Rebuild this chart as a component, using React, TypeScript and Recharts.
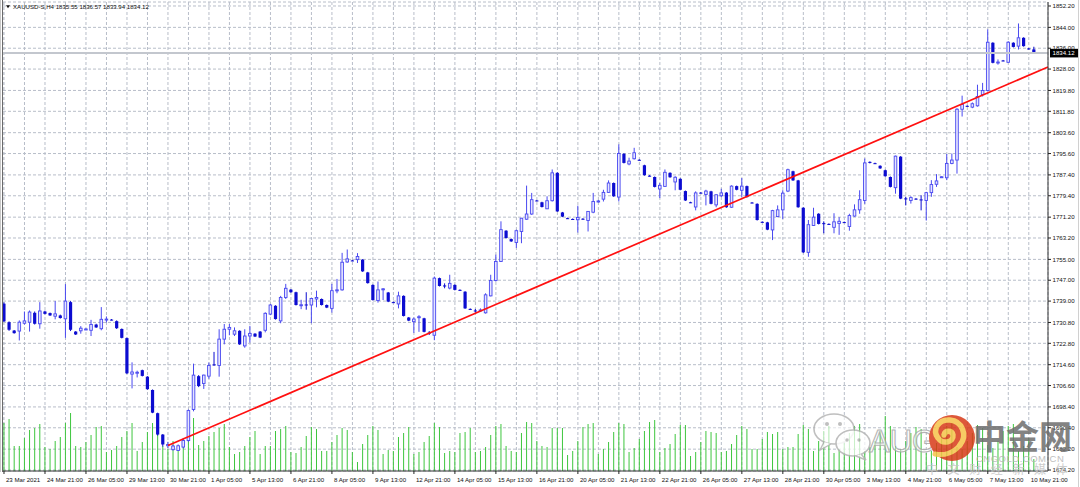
import React from 'react';
import { ComposedChart, Bar, XAxis, YAxis, CartesianGrid, ReferenceLine } from 'recharts';

// ---------- data ----------
const SYMBOL = 'XAUUSD-S,H4';
const LAST_BAR = { o: 1835.55, h: 1836.57, l: 1833.94, c: 1834.12 };
const LAST_PRICE = 1834.12;

const TIME_LABELS = [
  '23 Mar 2021', '24 Mar 21:00', '26 Mar 05:00', '29 Mar 13:00', '30 Mar 21:00', '1 Apr 05:00',
  '5 Apr 13:00', '6 Apr 21:00', '8 Apr 05:00', '9 Apr 13:00', '12 Apr 21:00', '14 Apr 05:00',
  '15 Apr 13:00', '16 Apr 21:00', '20 Apr 05:00', '21 Apr 13:00', '22 Apr 21:00', '26 Apr 05:00',
  '27 Apr 13:00', '28 Apr 21:00', '30 Apr 05:00', '3 May 13:00', '4 May 21:00', '6 May 05:00',
  '7 May 13:00', '10 May 21:00',
];

const PRICE_TICKS = [
  1852.2, 1844.0, 1836.0, 1828.0, 1819.8, 1811.8, 1803.6, 1795.6, 1787.4, 1779.4, 1771.2, 1763.2,
  1755.0, 1747.0, 1739.0, 1730.8, 1722.8, 1714.6, 1706.6, 1698.4, 1690.4, 1682.2, 1674.2,
];

const OPEN = [
  1738.0, 1730.9, 1727.7, 1727.5, 1730.5, 1730.9, 1734.5, 1730.3, 1735.0, 1734.4,
  1733.2, 1733.5, 1732.2, 1738.6, 1727.3, 1727.6, 1728.2, 1727.8, 1730.0, 1728.4,
  1732.0, 1731.9, 1731.3, 1728.3, 1724.8, 1711.0, 1711.5, 1712.5, 1710.0, 1704.9,
  1696.0, 1687.8, 1683.5, 1682.0, 1681.7, 1683.0, 1685.5, 1697.4, 1710.2, 1707.4,
  1710.2, 1714.7, 1714.3, 1724.4, 1728.2, 1726.3, 1727.6, 1721.8, 1725.6, 1726.5,
  1727.3, 1727.8, 1734.0, 1737.2, 1731.4, 1740.4, 1743.4, 1742.4, 1737.4, 1737.7,
  1737.5, 1739.8, 1739.8, 1737.5, 1736.2, 1743.0, 1743.3, 1754.0, 1754.6, 1754.9,
  1754.9, 1750.0, 1745.2, 1739.2, 1743.5, 1742.3, 1738.6, 1737.9, 1741.0, 1732.7,
  1731.1, 1732.9, 1732.4, 1726.9, 1725.9, 1747.8, 1745.0, 1744.0, 1745.2, 1743.3,
  1742.6, 1736.0, 1735.4, 1735.5, 1734.5, 1741.0, 1746.9, 1754.2, 1766.0, 1762.8,
  1761.5, 1765.7, 1770.4, 1772.4, 1777.6, 1776.9, 1774.4, 1777.5, 1788.2, 1773.0,
  1770.8, 1770.5, 1770.2, 1770.6, 1769.9, 1773.1, 1777.3, 1778.1, 1780.7, 1784.3,
  1778.9, 1795.5, 1791.6, 1793.6, 1793.2, 1791.1, 1787.1, 1786.6, 1782.0, 1783.0,
  1788.2, 1784.7, 1785.9, 1781.2, 1776.9, 1775.1, 1780.6, 1779.9, 1781.1, 1775.9,
  1779.4, 1780.6, 1775.0, 1783.1, 1781.5, 1783.1, 1776.8, 1776.3, 1769.4, 1769.2,
  1766.3, 1771.4, 1774.0, 1781.2, 1788.8, 1785.3, 1774.8, 1757.7, 1768.0, 1772.5,
  1768.9, 1768.6, 1767.3, 1768.8, 1769.3, 1767.6, 1771.6, 1774.0, 1777.6, 1792.4,
  1791.9, 1790.9, 1789.2, 1786.6, 1782.5, 1794.4, 1778.4, 1777.6, 1778.3, 1778.0,
  1777.6, 1780.6, 1783.8, 1786.6, 1786.3, 1791.8, 1793.1, 1812.6, 1813.9, 1813.4,
  1813.9, 1818.2, 1819.8, 1838.1, 1830.6, 1831.3, 1830.6, 1838.1, 1836.8, 1840.0,
  1835.9, 1835.55,
];

const HIGH = [
  1738.5, 1731.2, 1727.9, 1731.6, 1735.0, 1735.4, 1735.0, 1738.6, 1735.3, 1734.6,
  1739.0, 1733.8, 1745.5, 1739.0, 1727.5, 1729.4, 1728.6, 1731.8, 1730.3, 1736.7,
  1733.1, 1732.1, 1731.6, 1728.5, 1725.0, 1715.5, 1712.3, 1712.7, 1710.2, 1705.1,
  1696.2, 1688.0, 1685.0, 1683.9, 1684.0, 1686.5, 1697.4, 1715.0, 1710.6, 1710.8,
  1715.4, 1719.5, 1728.2, 1730.2, 1730.2, 1728.9, 1727.8, 1728.2, 1729.5, 1726.7,
  1727.5, 1734.7, 1737.9, 1737.4, 1741.0, 1745.6, 1743.6, 1742.6, 1739.5, 1742.4,
  1740.1, 1743.0, 1740.0, 1737.7, 1745.6, 1747.5, 1757.5, 1758.8, 1754.8, 1757.4,
  1755.1, 1750.2, 1745.4, 1746.5, 1744.0, 1742.5, 1738.8, 1742.6, 1741.2, 1732.9,
  1732.7, 1733.6, 1732.6, 1727.5, 1748.4, 1748.0, 1745.8, 1749.1, 1745.4, 1743.5,
  1742.8, 1736.2, 1736.0, 1736.2, 1742.0, 1749.1, 1756.8, 1769.6, 1766.2, 1763.0,
  1766.4, 1770.9, 1783.3, 1780.5, 1777.8, 1777.1, 1779.2, 1789.5, 1788.4, 1773.2,
  1771.0, 1770.7, 1775.6, 1770.8, 1773.5, 1780.5, 1777.8, 1781.7, 1785.3, 1784.5,
  1799.1, 1795.7, 1794.0, 1797.8, 1793.4, 1791.3, 1787.3, 1786.8, 1784.3, 1789.5,
  1788.4, 1786.9, 1786.1, 1781.4, 1777.1, 1781.1, 1780.8, 1781.7, 1781.3, 1779.9,
  1782.1, 1780.8, 1783.4, 1783.3, 1786.2, 1783.3, 1777.0, 1776.5, 1769.6, 1769.4,
  1774.0, 1775.7, 1781.5, 1789.8, 1789.0, 1785.5, 1775.0, 1770.1, 1774.8, 1772.7,
  1769.6, 1768.8, 1772.7, 1771.2, 1769.5, 1772.5, 1776.1, 1781.5, 1793.7, 1792.6,
  1792.1, 1791.1, 1789.4, 1786.8, 1794.8, 1794.6, 1779.0, 1779.2, 1778.5, 1779.6,
  1780.9, 1785.4, 1787.7, 1786.9, 1795.4, 1795.6, 1813.0, 1817.8, 1814.1, 1815.2,
  1822.0, 1822.7, 1843.2, 1838.3, 1831.7, 1831.5, 1838.7, 1838.3, 1845.5, 1840.2,
  1836.1, 1836.57,
];

const LOW = [
  1731.0, 1727.6, 1726.5, 1723.9, 1730.0, 1727.3, 1730.0, 1728.4, 1733.9, 1733.3,
  1732.0, 1732.3, 1724.9, 1727.5, 1726.0, 1726.5, 1727.9, 1725.6, 1728.7, 1727.8,
  1730.8, 1731.6, 1728.3, 1724.7, 1711.0, 1705.5, 1709.7, 1710.1, 1705.0, 1696.0,
  1687.4, 1683.2, 1682.6, 1681.7, 1681.5, 1682.5, 1685.0, 1696.7, 1706.0, 1705.3,
  1709.2, 1714.2, 1710.0, 1722.4, 1725.9, 1725.6, 1722.2, 1721.1, 1723.1, 1725.2,
  1724.8, 1727.0, 1733.6, 1731.9, 1730.5, 1739.8, 1742.2, 1737.3, 1735.9, 1735.7,
  1730.5, 1736.6, 1737.3, 1736.3, 1734.6, 1742.0, 1743.0, 1753.7, 1754.3, 1753.6,
  1750.2, 1745.7, 1739.2, 1738.4, 1739.4, 1738.6, 1738.3, 1736.2, 1733.1, 1731.3,
  1726.8, 1727.2, 1727.0, 1726.0, 1724.0, 1744.6, 1743.9, 1743.5, 1743.1, 1743.0,
  1736.0, 1735.7, 1734.6, 1734.8, 1734.2, 1740.8, 1746.5, 1754.0, 1763.0, 1761.7,
  1759.4, 1761.2, 1770.2, 1772.1, 1777.3, 1774.9, 1774.3, 1777.2, 1773.2, 1771.2,
  1770.5, 1770.2, 1765.3, 1770.2, 1765.7, 1772.7, 1776.8, 1777.2, 1780.5, 1779.0,
  1777.2, 1791.8, 1791.1, 1793.3, 1792.9, 1787.1, 1786.8, 1782.6, 1778.5, 1782.8,
  1786.3, 1781.5, 1781.5, 1777.4, 1776.6, 1773.8, 1780.3, 1775.7, 1776.1, 1775.0,
  1778.9, 1774.8, 1774.8, 1781.5, 1778.9, 1778.7, 1776.5, 1769.9, 1769.1, 1766.2,
  1762.4, 1771.2, 1770.5, 1780.8, 1785.1, 1774.8, 1757.4, 1756.0, 1767.8, 1768.4,
  1765.0, 1768.3, 1765.0, 1764.4, 1769.0, 1766.0, 1771.4, 1772.5, 1776.3, 1791.8,
  1791.6, 1789.7, 1786.7, 1782.6, 1780.2, 1778.1, 1775.7, 1776.4, 1777.9, 1773.8,
  1769.9, 1779.0, 1782.8, 1786.4, 1785.4, 1791.5, 1787.9, 1809.8, 1813.6, 1813.0,
  1813.6, 1817.5, 1819.4, 1830.2, 1829.7, 1831.0, 1830.4, 1836.3, 1835.5, 1836.6,
  1835.5, 1833.94,
];

const CLOSE = [
  1731.2, 1728.0, 1726.7, 1730.9, 1731.4, 1734.8, 1730.3, 1735.2, 1734.1, 1733.5,
  1734.1, 1732.5, 1739.0, 1728.0, 1726.2, 1728.6, 1728.3, 1730.0, 1728.9, 1732.0,
  1732.1, 1731.8, 1728.6, 1724.9, 1711.3, 1711.8, 1711.7, 1710.3, 1705.2, 1696.2,
  1687.8, 1684.0, 1684.0, 1683.4, 1683.5, 1685.5, 1697.0, 1710.6, 1706.4, 1710.6,
  1714.3, 1714.4, 1724.4, 1728.2, 1728.9, 1727.6, 1722.4, 1725.6, 1726.6, 1725.4,
  1725.0, 1734.3, 1737.5, 1732.1, 1740.4, 1743.9, 1742.4, 1737.5, 1737.6, 1737.5,
  1740.0, 1740.4, 1737.5, 1736.5, 1743.0, 1743.3, 1753.9, 1755.2, 1754.5, 1756.1,
  1750.4, 1745.9, 1739.4, 1743.3, 1743.7, 1738.8, 1738.5, 1741.0, 1733.3, 1731.5,
  1732.1, 1733.0, 1727.2, 1726.7, 1747.8, 1744.8, 1744.6, 1745.8, 1743.3, 1743.2,
  1736.2, 1735.9, 1735.2, 1735.6, 1741.4, 1746.9, 1754.2, 1766.4, 1763.2, 1761.9,
  1766.0, 1770.8, 1772.4, 1777.9, 1777.5, 1775.1, 1777.5, 1788.2, 1773.4, 1771.4,
  1770.7, 1770.4, 1771.1, 1770.4, 1773.4, 1777.2, 1777.4, 1780.7, 1784.3, 1779.2,
  1795.6, 1792.0, 1792.7, 1795.9, 1793.0, 1787.3, 1787.0, 1782.8, 1783.4, 1788.4,
  1786.5, 1786.5, 1781.7, 1777.6, 1776.8, 1780.5, 1780.5, 1781.2, 1776.3, 1779.8,
  1780.5, 1775.0, 1783.1, 1781.7, 1783.1, 1778.9, 1776.7, 1770.1, 1769.3, 1766.4,
  1773.7, 1774.0, 1780.4, 1789.4, 1785.3, 1775.0, 1757.7, 1768.3, 1771.2, 1768.6,
  1768.8, 1768.5, 1769.4, 1769.6, 1769.2, 1771.8, 1774.0, 1777.9, 1792.0, 1792.0,
  1791.8, 1789.9, 1786.9, 1782.8, 1794.6, 1778.3, 1778.2, 1778.7, 1778.1, 1777.9,
  1780.6, 1783.7, 1785.1, 1786.7, 1791.8, 1793.1, 1812.6, 1814.4, 1813.8, 1814.7,
  1817.5, 1819.8, 1838.3, 1830.4, 1830.7, 1831.2, 1838.3, 1836.5, 1840.0, 1836.8,
  1835.7, 1834.12,
];

// tick volume, hundreds of ticks
const VOLUME = [
  48, 52, 25, 25, 33, 41, 43, 47, 24, 22, 30, 34, 48, 58, 25, 24, 29, 36, 44, 45,
  19, 21, 25, 34, 40, 48, 20, 29, 39, 48, 53, 25, 22, 30, 20, 25, 30, 53, 26, 30,
  35, 39, 43, 47, 24, 17, 19, 25, 34, 40, 17, 25, 25, 40, 42, 45, 19, 18, 24, 35,
  44, 42, 20, 20, 29, 36, 43, 41, 19, 9, 27, 36, 45, 41, 17, 21, 20, 34, 38, 44,
  17, 19, 29, 35, 48, 44, 18, 20, 19, 38, 39, 43, 19, 20, 24, 36, 45, 47, 25, 20,
  19, 38, 49, 48, 30, 25, 24, 43, 43, 43, 16, 20, 30, 44, 47, 48, 17, 22, 29, 39,
  48, 47, 19, 23, 32, 40, 49, 51, 19, 23, 27, 37, 46, 46, 15, 19, 29, 40, 39, 38,
  19, 20, 27, 36, 45, 42, 22, 22, 32, 39, 37, 39, 22, 24, 24, 37, 46, 42, 20, 30,
  40, 45, 18, 22, 28, 38, 45, 47, 20, 24, 30, 40, 55, 45, 25, 22, 30, 38, 44, 42,
  18, 20, 28, 36, 45, 48, 24, 22, 30, 38, 46, 43, 26, 23, 30, 40, 45, 47, 20, 25,
  33, 12,
];

const TREND_START = { x: 32, y: 1683.6 };
const TREND_END = { x: 203.75, y: 1828.8 };

// ---------- layout / style ----------
const W = 1080;
const H = 487;
const X_DOMAIN: [number, number] = [-0.195, 203.75];
const Y_DOMAIN: [number, number] = [1673.82, 1853.73];
const VOL_DOMAIN: [number, number] = [0, 469];
const GRID_STEP = 4;
const LABEL_STEP = 8;
const FONT = "'Liberation Sans', Arial, sans-serif";
const FS = 6.1;

const BULL_FILL = '#e6e6ff';
const BULL_LINE = '#4848f0';
const BEAR_COLOR = '#0c0cd0';
const GRID_COLOR = '#b8bec9';
const VOL_COLOR = '#3ec63e';

const rows = OPEN.map((o, i) => ({
  i,
  o,
  h: HIGH[i],
  l: LOW[i],
  c: CLOSE[i],
  v: VOLUME[i],
}));

const xTicks = Array.from({ length: TIME_LABELS.length * 2 - 1 }, (_, k) => k * GRID_STEP);

const CandleShape = (props: any) => {
  const { x, y, width, height, payload } = props;
  if (!payload) return <g />;
  const { o, h, l, c } = payload;
  const cx = x + width / 2;
  const range = h - l;
  const ppu = range > 0 ? height / range : 0;
  const yOf = (p: number) => y + (h - p) * ppu;
  const up = c >= o;
  const top = yOf(Math.max(o, c));
  const bot = yOf(Math.min(o, c));
  const bh = Math.max(bot - top, 1);
  if (up) {
    return (
      <g>
        <line x1={cx} x2={cx} y1={y} y2={y + height} stroke={BULL_LINE} strokeWidth={1} />
        <rect x={cx - 1.3} y={top} width={2.6} height={bh} fill={BULL_FILL} stroke={BULL_LINE} strokeWidth={0.9} />
      </g>
    );
  }
  return (
    <g>
      <line x1={cx} x2={cx} y1={y} y2={y + height} stroke={BEAR_COLOR} strokeWidth={1} />
      <rect x={cx - 1.6} y={top} width={3.2} height={bh} fill={BEAR_COLOR} />
    </g>
  );
};

const TimeTick = (props: any) => {
  const { x, y, payload } = props;
  const v = payload?.value;
  if (v == null || v % LABEL_STEP !== 0) return <g />;
  const label = TIME_LABELS[v / LABEL_STEP];
  return (
    <g>
      <line x1={x} x2={x} y1={y} y2={y + 3} stroke="#222" strokeWidth={1} />
      <text x={x + 2} y={y + 10.5} fontSize={FS} fontFamily={FONT} fill="#111">
        {label}
      </text>
    </g>
  );
};

const PriceTick = (props: any) => {
  const { x, y, payload } = props;
  return (
    <g>
      <line x1={x} x2={x + 3} y1={y} y2={y} stroke="#222" strokeWidth={1} />
      <text x={x + 4.5} y={y + 2.2} fontSize={FS} fontFamily={FONT} fill="#111">
        {Number(payload.value).toFixed(2)}
      </text>
    </g>
  );
};

const PriceTag = (props: any) => {
  const vb = props.viewBox || {};
  const x = (vb.x ?? 0) + (vb.width ?? 0) + 2;
  const y = vb.y ?? 0;
  return (
    <g>
      <rect x={x} y={y - 4.3} width={29} height={8.6} fill="#000" />
      <text x={x + 2.5} y={y + 2.2} fontSize={FS} fontFamily={FONT} fill="#fff">
        {LAST_PRICE.toFixed(2)}
      </text>
    </g>
  );
};

const Overlay = () => (
  <svg
    width={W}
    height={H}
    style={{ position: 'absolute', left: 0, top: 0, pointerEvents: 'none' }}
  >
    {/* window frame */}
    <line x1={0.5} x2={0.5} y1={0} y2={472} stroke="#c8c8c8" strokeWidth={1} />
    <line x1={2.5} x2={2.5} y1={0} y2={472} stroke="#6a6a6a" strokeWidth={1} />
    <line x1={1078.5} x2={1078.5} y1={0} y2={H} stroke="#d0d0d0" strokeWidth={1} />
    {/* header */}
    <polygon points="6,5.2 10,5.2 8,8.2" fill="#111" />
    <text x={13} y={9.3} fontSize={FS} fontFamily={FONT} fill="#111">
      {`${SYMBOL}  ${LAST_BAR.o.toFixed(2)} ${LAST_BAR.h.toFixed(2)} ${LAST_BAR.l.toFixed(2)} ${LAST_BAR.c.toFixed(2)}`}
    </text>
    {/* watermark */}
    <g opacity={0.85}>
      <ellipse cx={834} cy={429} rx={20} ry={15} fill="#ffffff" fillOpacity={0.7} stroke="#b4b4b4" strokeWidth={1.6} />
      <path d="M 824 442 L 820 450 L 831 444" fill="#ffffff" stroke="#b4b4b4" strokeWidth={1.4} />
      <circle cx={827} cy={424} r={2} fill="#b4b4b4" />
      <circle cx={840} cy={424} r={2} fill="#b4b4b4" />
      <ellipse cx={853} cy={443} rx={17} ry={13} fill="#ffffff" fillOpacity={0.85} stroke="#b4b4b4" strokeWidth={1.6} />
      <path d="M 861 454 L 866 460 L 856 456" fill="#ffffff" stroke="#b4b4b4" strokeWidth={1.4} />
      <circle cx={847} cy={440} r={1.7} fill="#b4b4b4" />
      <circle cx={859} cy={440} r={1.7} fill="#b4b4b4" />
      <text x={869} y={452} fontSize={31} fontFamily={FONT} fill="#ffffff" fillOpacity={0.6} stroke="#a8a8a8" strokeWidth={1.1}>
        AUG
      </text>
      <circle cx={952} cy={438} r={23} fill="#d83a18" />
      <path
        d="M 960 445 C 968 435 962 421 950 420 C 938 419 932 430 938 438 C 943 445 954 442 953 435 C 952 430 945 430 944 435"
        fill="none"
        stroke="#f6c24a"
        strokeWidth={5.5}
        strokeLinecap="round"
      />
      <path d="M 960 445 C 954 453 944 456 935 454" fill="none" stroke="#f6c24a" strokeWidth={5} strokeLinecap="round" />
      <text x={973} y={449} fontSize={33} fontWeight={700} fontFamily="'Noto Sans CJK SC', sans-serif" fill="#6e6e6e">
        中金网
      </text>
      <text x={976} y={462} fontSize={9.5} fontFamily={FONT} fill="#b4b4b4" letterSpacing={0.5}>
        CNGOLD.COM.CN
      </text>
      <text x={926} y={474} fontSize={12} fontFamily="'Noto Sans CJK SC', sans-serif" fill="#c4c4c4" letterSpacing={9.6}>
        中文财经新媒体
      </text>
    </g>
  </svg>
);

export default function App() {
  return (
    <div style={{ position: 'fixed', left: 0, top: 0, width: W, height: H, background: '#ffffff', overflow: 'hidden' }}>
      <ComposedChart
        width={W}
        height={H}
        data={rows}
        margin={{ top: 2, right: 0, bottom: 0, left: 3 }}
      >
        <CartesianGrid
          xAxisId="t"
          yAxisId="p"
          stroke={GRID_COLOR}
          strokeDasharray="3 2"
          strokeWidth={1}
        />
        <XAxis
          xAxisId="t"
          dataKey="i"
          type="number"
          domain={X_DOMAIN}
          allowDataOverflow
          ticks={xTicks}
          interval={0}
          tick={<TimeTick />}
          tickLine={false}
          tickSize={0}
          tickMargin={0}
          axisLine={{ stroke: '#333', strokeWidth: 1 }}
          height={16}
        />
        <XAxis
          xAxisId="vx"
          dataKey="i"
          type="number"
          domain={X_DOMAIN}
          allowDataOverflow
          hide
        />
        <YAxis
          yAxisId="p"
          orientation="right"
          type="number"
          domain={Y_DOMAIN}
          allowDataOverflow
          ticks={PRICE_TICKS}
          interval={0}
          tick={<PriceTick />}
          tickLine={false}
          tickSize={0}
          tickMargin={0}
          axisLine={{ stroke: '#333', strokeWidth: 1 }}
          width={32}
        />
        <YAxis yAxisId="v" type="number" domain={VOL_DOMAIN} allowDataOverflow hide />
        <Bar
          xAxisId="vx"
          yAxisId="v"
          dataKey="v"
          barSize={1}
          fill={VOL_COLOR}
          isAnimationActive={false}
        />
        <ReferenceLine
          xAxisId="t"
          yAxisId="p"
          y={LAST_PRICE}
          stroke="#c3c7ce"
          strokeWidth={2}
          label={<PriceTag />}
        />
        <Bar
          xAxisId="t"
          yAxisId="p"
          dataKey={(d: any) => [d.l, d.h]}
          barSize={3}
          shape={(p: any) => <CandleShape {...p} />}
          isAnimationActive={false}
        />
        <ReferenceLine
          xAxisId="t"
          yAxisId="p"
          segment={[TREND_START, TREND_END]}
          stroke="#ff1010"
          strokeWidth={1.7}
          ifOverflow="visible"
        />
      </ComposedChart>
      <Overlay />
    </div>
  );
}
